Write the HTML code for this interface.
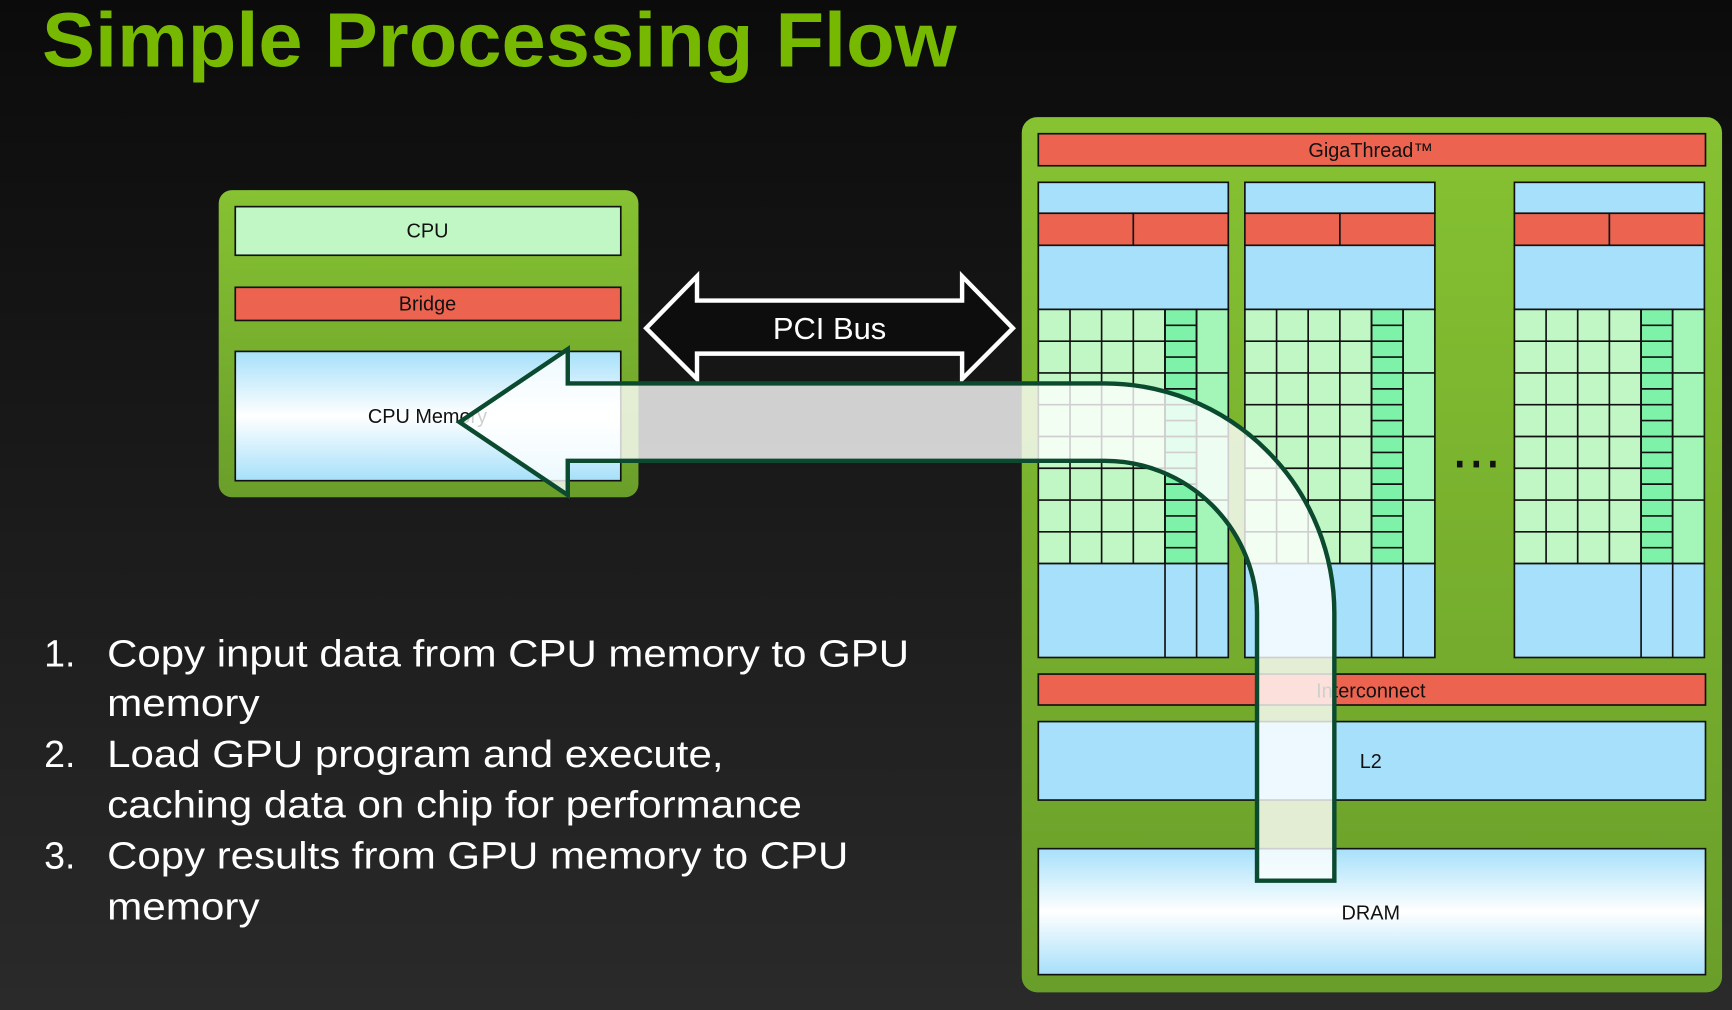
<!DOCTYPE html>
<html><head><meta charset="utf-8"><style>
html,body{margin:0;padding:0;width:1732px;height:1010px;overflow:hidden;background:#1a1a1a}
svg{display:block}
</style></head><body>
<svg width="1732" height="1010" viewBox="0 0 1568 914" preserveAspectRatio="none" xmlns="http://www.w3.org/2000/svg">
<defs>
<linearGradient id="bg" x1="0" y1="0" x2="0" y2="1"><stop offset="0" stop-color="#0b0b0b"/><stop offset="1" stop-color="#2a2a2a"/></linearGradient>
<linearGradient id="gr" x1="0" y1="0" x2="0" y2="1"><stop offset="0" stop-color="#86c232"/><stop offset="1" stop-color="#6a9e2a"/></linearGradient>
<linearGradient id="mem" x1="0" y1="0" x2="0" y2="1"><stop offset="0" stop-color="#a6e0fa"/><stop offset="0.5" stop-color="#ffffff"/><stop offset="1" stop-color="#a6e0fa"/></linearGradient>
<symbol id="col" overflow="visible">
<g stroke="#111" stroke-width="1.5">
<rect x="0" y="0" width="172" height="28" fill="#a6e0fa"/>
<rect x="0" y="28" width="86" height="29" fill="#ec6450"/>
<rect x="86" y="28" width="86" height="29" fill="#ec6450"/>
<rect x="0" y="57" width="172" height="58" fill="#a6e0fa"/>
<rect x="0" y="115" width="114.7" height="230" fill="#c0f7c4"/>
<rect x="114.7" y="115" width="28.6" height="230" fill="#7ef2a8"/>
<rect x="143.3" y="115" width="28.7" height="230" fill="#a4f5b8"/>
<rect x="0" y="345" width="172" height="85" fill="#a6e0fa"/>
<path fill="none" d="M28.7 115V345M57.3 115V345M86 115V345M114.7 115V430M143.3 115V430
M0 143.75H114.7M0 172.5H114.7M0 201.25H114.7M0 230H114.7M0 258.75H114.7M0 287.5H114.7M0 316.25H114.7
M114.7 129.4H143.3M114.7 143.75H143.3M114.7 158.1H143.3M114.7 172.5H143.3M114.7 186.9H143.3M114.7 201.25H143.3M114.7 215.6H143.3M114.7 230H143.3M114.7 244.4H143.3M114.7 258.75H143.3M114.7 273.1H143.3M114.7 287.5H143.3M114.7 301.9H143.3M114.7 316.25H143.3M114.7 330.6H143.3
M143.3 172.5H172M143.3 230H172M143.3 287.5H172"/>
</g>
</symbol>
</defs>
<rect width="1568" height="914" fill="url(#bg)"/>
<text x="38" y="60" font-family="Liberation Sans, sans-serif" font-size="70" font-weight="bold" fill="#76b900" textLength="828" lengthAdjust="spacingAndGlyphs">Simple Processing Flow</text>

<rect x="198" y="172" width="380" height="278" rx="12" fill="url(#gr)"/>
<g stroke="#111" stroke-width="1.5">
<rect x="213" y="187" width="349" height="44" fill="#c0f7c4"/>
<rect x="213" y="260" width="349" height="30" fill="#ec6450"/>
<rect x="213" y="318" width="349" height="117" fill="url(#mem)"/>
</g>
<g font-family="Liberation Sans, sans-serif" font-size="18" text-anchor="middle" fill="#111">
<text x="387" y="215">CPU</text>
<text x="387" y="281">Bridge</text>
<text x="387" y="383">CPU Memory</text>
</g>

<path d="M585 297 L631 250 L631 272 L871 272 L871 250 L917 297 L871 343 L871 320 L631 320 L631 343 Z" fill="#0d0d0d" stroke="#fff" stroke-width="4"/>
<text x="751" y="307" font-family="Liberation Sans, sans-serif" font-size="28" fill="#fff" text-anchor="middle">PCI Bus</text>

<rect x="925" y="106" width="634" height="792" rx="14" fill="url(#gr)"/>
<rect x="940" y="121" width="604" height="29" fill="#ec6450" stroke="#111" stroke-width="1.5"/>
<text x="1241" y="142" font-family="Liberation Sans, sans-serif" font-size="18" fill="#111" text-anchor="middle">GigaThread™</text>
<use href="#col" x="940" y="165"/>
<use href="#col" x="1127" y="165"/>
<use href="#col" x="1371" y="165"/>
<g fill="#111"><rect x="1319" y="417" width="5" height="6"/><rect x="1334" y="417" width="5" height="6"/><rect x="1349" y="417" width="5" height="6"/></g>
<g stroke="#111" stroke-width="1.5">
<rect x="940" y="610" width="604" height="28" fill="#ec6450"/>
<rect x="940" y="653" width="604" height="71" fill="#a6e0fa"/>
<rect x="940" y="768" width="604" height="114" fill="url(#mem)"/>
</g>
<g font-family="Liberation Sans, sans-serif" font-size="18" fill="#111" text-anchor="middle">
<text x="1241" y="631">Interconnect</text>
<text x="1241" y="695">L2</text>
<text x="1241" y="832">DRAM</text>
</g>

<path d="M416 382 L514 316 L514 347 L1000 347 A208 208 0 0 1 1208 555 L1208 797 L1138 797 L1138 555 A138 138 0 0 0 1000 417 L514 417 L514 448 Z" fill="#ffffff" fill-opacity="0.8" stroke="#0b4a2e" stroke-width="4"/>

<g font-family="Liberation Sans, sans-serif" font-size="34" fill="#fff" lengthAdjust="spacingAndGlyphs">
<text x="40" y="603">1.</text><text x="97" y="603" textLength="726" lengthAdjust="spacingAndGlyphs">Copy input data from CPU memory to GPU</text>
<text x="97" y="648" textLength="138" lengthAdjust="spacingAndGlyphs">memory</text>
<text x="40" y="694">2.</text><text x="97" y="694" textLength="558" lengthAdjust="spacingAndGlyphs">Load GPU program and execute,</text>
<text x="97" y="740" textLength="629" lengthAdjust="spacingAndGlyphs">caching data on chip for performance</text>
<text x="40" y="786">3.</text><text x="97" y="786" textLength="671" lengthAdjust="spacingAndGlyphs">Copy results from GPU memory to CPU</text>
<text x="97" y="832" textLength="138" lengthAdjust="spacingAndGlyphs">memory</text>
</g>
</svg>
</body></html>
